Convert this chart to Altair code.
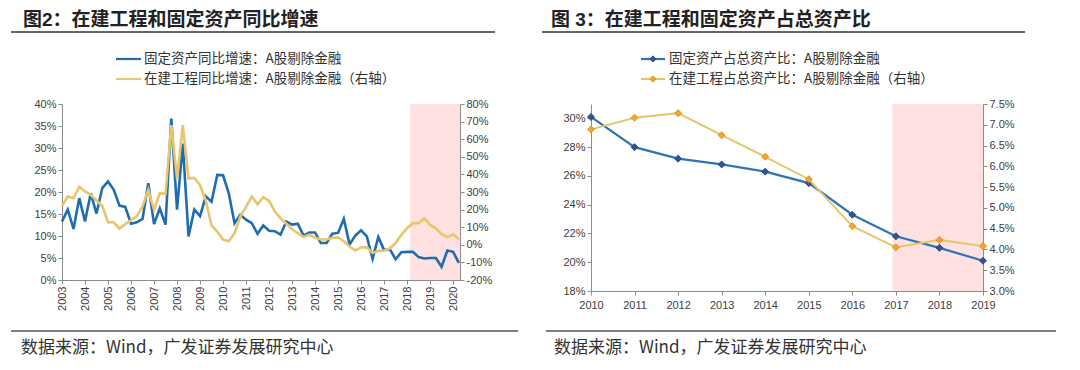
import altair as alt
import pandas as pd

# ---------------- data ----------------
years_q = [y for y in range(2003, 2021) for q in range(4)][:70]
qtr_idx = [q for y in range(2003, 2021) for q in range(4)][:70]

fa_growth = [13.3, 16.0, 11.6, 18.6, 13.3, 19.7, 15.1, 20.9, 22.4, 20.5, 16.9, 16.6,
             12.8, 13.1, 13.9, 22.0, 12.7, 16.3, 12.6, 36.7, 16.0, 31.0, 9.9, 16.0,
             14.5, 19.0, 17.8, 23.9, 23.8, 19.7, 12.9, 14.8, 13.7, 12.9, 10.5, 12.4,
             11.2, 11.1, 10.3, 13.3, 12.6, 12.8, 10.1, 10.8, 10.8, 8.4, 8.4, 10.5,
             10.7, 13.9, 8.1, 10.1, 11.3, 9.9, 4.8, 9.8, 6.8, 7.0, 4.7, 6.3,
             6.4, 6.4, 5.2, 4.9, 5.0, 5.0, 3.0, 6.7, 6.4, 3.9]
cip_growth = [21.8, 27.5, 26.5, 33.0, 30.3, 28.4, 25.2, 22.2, 12.8, 12.8, 9.2, 11.8,
              13.9, 16.2, 21.8, 31.2, 19.9, 29.3, 29.0, 68.0, 37.8, 68.0, 37.8, 38.0,
              34.0, 25.0, 11.0, 7.5, 3.0, 2.0, 6.5, 16.0, 21.5, 27.5, 23.0, 27.0,
              25.0, 19.0, 15.0, 12.0, 9.0, 6.6, 4.5, 5.7, 4.0, 3.0, 3.0, 4.0,
              4.2, 2.0, -1.0, -3.2, -1.5, -1.3, -4.7, -3.4, -3.4, -2.0, 1.0, 5.7,
              9.4, 12.3, 12.3, 15.0, 11.3, 9.4, 6.0, 4.3, 6.0, 3.2]

years_r = [2010, 2011, 2012, 2013, 2014, 2015, 2016, 2017, 2018, 2019]
fa_share = [30.1, 28.0, 27.2, 26.8, 26.3, 25.5, 23.3, 21.8, 21.0, 20.1]
cip_share = [6.89, 7.17, 7.28, 6.75, 6.23, 5.69, 4.56, 4.05, 4.23, 4.08]

left_ticks = list(range(2003, 2021))
left_y = [0, 5, 10, 15, 20, 25, 30, 35, 40]
left_y2 = [-20, -10, 0, 10, 20, 30, 40, 50, 60, 70, 80]
right_ticks = years_r
right_y = [18, 20, 22, 24, 26, 28, 30]
right_y2 = [3.0, 3.5, 4.0, 4.5, 5.0, 5.5, 6.0, 6.5, 7.0, 7.5]

shade_left = [2018.13, 2020.3]
shade_right = [2016.92, 2019.0]

title_l = "图2：在建工程和固定资产同比增速"
title_r = "图 3：在建工程和固定资产占总资产比"
leg_l1 = "固定资产同比增速：A股剔除金融"
leg_l2 = "在建工程同比增速：A股剔除金融（右轴）"
leg_r1 = "固定资产占总资产比：A股剔除金融"
leg_r2 = "在建工程占总资产比：A股剔除金融（右轴）"
source = "数据来源：Wind，广发证券发展研究中心"

BLUE = "#1F6DB0"
GOLD = "#E8C56E"
PINK = "#FFE1E1"
BLUE2 = "#2E75B6"
BLUE_MK = "#2F5597"
GOLD2 = "#E6C66B"
ORANGE = "#F5A52C"
ORANGE_S = "#D98526"
CJK = "Noto Sans CJK SC"
TITLE_FONT = "Liberation Sans, Noto Sans CJK SC"
LAT = "Liberation Sans"

dfl = pd.DataFrame({"t": [y + q / 4 for y, q in zip(years_q, qtr_idx)],
                    "fa": fa_growth, "cip": cip_growth})
dfr = pd.DataFrame({"t": years_r, "fa": fa_share, "cip": cip_share})
one = pd.DataFrame({"a": [0]})

WL, HL = 398, 176
WR, HR = 392, 187
LEG_Y = (-45, -25)


def deco(title, leg1, leg2, rule_top, rule_bot, src_x, title_x, sample, markers):
    layers = []
    layers.append(alt.Chart(one).mark_text(text=title, align="left", baseline="alphabetic",
                                           font=TITLE_FONT, fontSize=19, fontWeight="bold",
                                           color="#222222")
                  .encode(x=alt.value(title_x), y=alt.value(-78)))
    layers.append(alt.Chart(one).mark_rule(color="#333333", strokeWidth=1.5)
                  .encode(x=alt.value(rule_top[0]), x2=alt.value(rule_top[1]), y=alt.value(-72)))
    layers.append(alt.Chart(one).mark_rule(color="#555555", strokeWidth=1.5)
                  .encode(x=alt.value(rule_bot[0]), x2=alt.value(rule_bot[1]), y=alt.value(227)))
    layers.append(alt.Chart(one).mark_text(text=source, align="left", baseline="middle",
                                           font=CJK, fontSize=17, color="#333333")
                  .encode(x=alt.value(src_x), y=alt.value(244)))
    x0, x1, tx = sample
    for txt, yy, col, mk in [(leg1, LEG_Y[0], markers[0], markers[2]),
                             (leg2, LEG_Y[1], markers[1], markers[3])]:
        layers.append(alt.Chart(one).mark_rule(color=col, strokeWidth=2.2)
                      .encode(x=alt.value(x0), x2=alt.value(x1), y=alt.value(yy)))
        if mk is not None:
            layers.append(alt.Chart(one).mark_point(shape="diamond", filled=True, size=40,
                                                    fill=mk[0], stroke=mk[1], strokeWidth=0.8, opacity=1)
                          .encode(x=alt.value((x0 + x1) / 2), y=alt.value(yy)))
        layers.append(alt.Chart(one).mark_text(text=txt, align="left", baseline="middle",
                                               font=CJK, fontSize=13.5, color="#333333")
                      .encode(x=alt.value(tx), y=alt.value(yy)))
    return layers


# ---------------- left panel ----------------
xs_l = alt.Scale(domain=[2003, 2020.3], nice=False, zero=False)
xax_l = alt.Axis(values=left_ticks, format="d", labelAngle=270, title=None, tickSize=4,
                 labelPadding=2, labelFlush=False)

shade_l = alt.Chart(pd.DataFrame({"s": [shade_left[0]], "e": [shade_left[1]]})).mark_rect(
    color=PINK).encode(x=alt.X("s:Q", scale=xs_l, axis=xax_l), x2="e:Q",
                       y=alt.value(0), y2=alt.value(HL))

line_fa = alt.Chart(dfl).mark_line(color=BLUE, strokeWidth=2.6).encode(
    x=alt.X("t:Q", scale=xs_l, axis=xax_l),
    y=alt.Y("fa:Q", scale=alt.Scale(domain=[0, 40], nice=False),
            axis=alt.Axis(orient="left", values=left_y, labelExpr="datum.value + '%'",
                          title=None, tickSize=4)))
line_cip = alt.Chart(dfl).mark_line(color=GOLD, strokeWidth=2.6).encode(
    x=alt.X("t:Q", scale=xs_l, axis=xax_l),
    y=alt.Y("cip:Q", scale=alt.Scale(domain=[-20, 80], nice=False),
            axis=alt.Axis(orient="right", values=left_y2, labelExpr="datum.value + '%'",
                          title=None, tickSize=4)))

left = alt.layer(shade_l, line_fa, line_cip,
                 *deco(title_l, leg_l1, leg_l2, (-51, 433), (-51, 456), -41, -39,
                       (54, 79, 82), (BLUE, GOLD, None, None))
                 ).resolve_scale(y="independent").properties(width=WL, height=HL)

# ---------------- right panel ----------------
xs_r = alt.Scale(domain=[2010, 2019], nice=False, zero=False)
xax_r = alt.Axis(values=right_ticks, format="d", labelAngle=0, title=None, tickSize=4,
                 labelPadding=4, labelFlush=False)

shade_r = alt.Chart(pd.DataFrame({"s": [shade_right[0]], "e": [shade_right[1]]})).mark_rect(
    color=PINK).encode(x=alt.X("s:Q", scale=xs_r, axis=xax_r), x2="e:Q",
                       y=alt.value(0), y2=alt.value(HR))

r_fa = alt.Chart(dfr).mark_line(color=BLUE2, strokeWidth=2.2,
                                point=alt.OverlayMarkDef(shape="diamond", filled=True, size=50,
                                                         fill=BLUE_MK, stroke="#24407A",
                                                         strokeWidth=0.8, opacity=1)).encode(
    x=alt.X("t:Q", scale=xs_r, axis=xax_r),
    y=alt.Y("fa:Q", scale=alt.Scale(domain=[18, 31], nice=False, zero=False),
            axis=alt.Axis(orient="left", values=right_y, labelExpr="datum.value + '%'",
                          title=None, tickSize=4)))
r_cip = alt.Chart(dfr).mark_line(color=GOLD2, strokeWidth=2.0,
                                 point=alt.OverlayMarkDef(shape="diamond", filled=True, size=50,
                                                          fill=ORANGE, stroke=ORANGE_S,
                                                          strokeWidth=0.8, opacity=1)).encode(
    x=alt.X("t:Q", scale=xs_r, axis=xax_r),
    y=alt.Y("cip:Q", scale=alt.Scale(domain=[3.0, 7.5], nice=False, zero=False),
            axis=alt.Axis(orient="right", values=right_y2,
                          labelExpr="format(datum.value, '.1f') + '%'",
                          title=None, tickSize=4)))

right = alt.layer(shade_r, r_fa, r_cip,
                  *deco(title_r, leg_r1, leg_r2, (-49, 434), (-45, 465), -37, -40,
                        (50, 74, 78), (BLUE2, GOLD2, (BLUE_MK, "#24407A"), (ORANGE, ORANGE_S)))
                  ).resolve_scale(y="independent").properties(width=WR, height=HR)

chart = alt.hconcat(left, right, spacing=131, bounds="flush").properties(
    padding={"left": 2, "top": 3, "right": 4, "bottom": 4}
).configure_view(stroke=None).configure_axis(
    grid=False, domainColor="#8C8C8C", tickColor="#8C8C8C", labelColor="#404040",
    labelFont=LAT, labelFontSize=11, domainWidth=1
)

chart.save("out.html", embed_options={"renderer": "svg", "actions": False})
